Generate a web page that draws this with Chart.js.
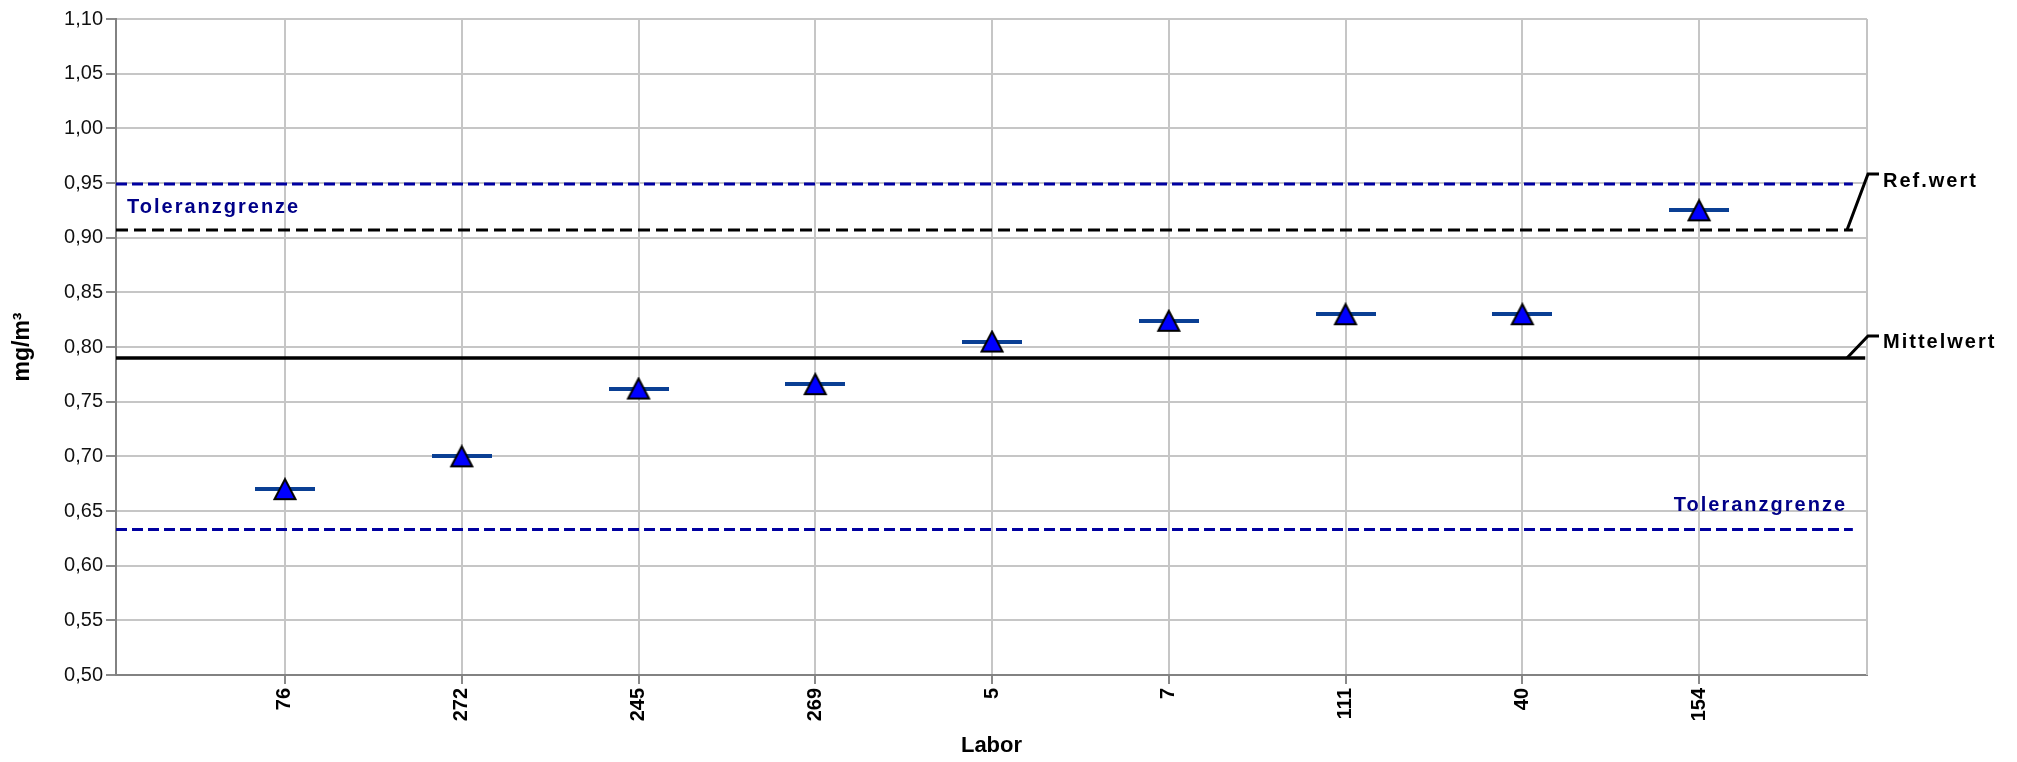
<!DOCTYPE html>
<html>
<head>
<meta charset="utf-8">
<script src="https://cdn.jsdelivr.net/npm/chart.js@4.4.1/dist/chart.umd.min.js"></script>
<style>
  body { margin: 0; background: #fff; }
  canvas { display: block; }
</style>
</head>
<body>
<canvas id="chart" width="2017" height="762"></canvas>
<script>
const labore = ['76', '272', '245', '269', '5', '7', '111', '40', '154'];
const messwerte = [0.670, 0.700, 0.762, 0.766, 0.805, 0.824, 0.830, 0.830, 0.925];
const refWert = 0.907;
const mittelwert = 0.790;
const tolOben = 0.949;
const tolUnten = 0.633;

const xMin = -0.956, xMax = 8.95;
const dashEnde = 8.87, mittelEnde = 8.94;

function fmt(v) {
  return v.toFixed(2).replace('.', ',');
}

// marker images (keeps Chart.js from reserving overflow space for big radii)
function makeTriangle() {
  const c = document.createElement('canvas');
  c.width = 26;
  c.height = 24;
  const g = c.getContext('2d');
  g.beginPath();
  g.moveTo(13, 2);
  g.lineTo(23.5, 22);
  g.lineTo(2.5, 22);
  g.closePath();
  g.fillStyle = '#0000ff';
  g.fill();
  g.lineWidth = 2;
  g.lineJoin = 'miter';
  g.strokeStyle = '#000';
  g.stroke();
  return c;
}

function makeBar() {
  const c = document.createElement('canvas');
  c.width = 60;
  c.height = 4;
  const g = c.getContext('2d');
  g.fillStyle = '#0a3f94';
  g.fillRect(0, 0, 60, 4);
  return c;
}

function hline(y, end) {
  return [{ x: xMin, y: y }, { x: end, y: y }];
}

const punkte = messwerte.map((v, i) => ({ x: i, y: v }));

const beschriftung = {
  id: 'beschriftung',
  afterDatasetsDraw(chart) {
    const ctx = chart.ctx;
    const a = chart.chartArea;
    const y = chart.scales.y;
    ctx.save();

    // right frame line
    ctx.strokeStyle = '#c4c4c4';
    ctx.lineWidth = 2;
    ctx.beginPath();
    ctx.moveTo(a.right, a.top);
    ctx.lineTo(a.right, a.bottom);
    ctx.stroke();

    ctx.letterSpacing = '2px';
    ctx.font = 'bold 20px "Liberation Sans", Arial, sans-serif';

    ctx.fillStyle = '#000088';
    ctx.textBaseline = 'alphabetic';
    ctx.textAlign = 'left';
    ctx.fillText('Toleranzgrenze', a.left + 11, y.getPixelForValue(tolOben) + 29);
    ctx.textAlign = 'right';
    ctx.fillText('Toleranzgrenze', a.right - 20, y.getPixelForValue(tolUnten) - 19);

    // leader lines to the right-hand labels
    ctx.strokeStyle = '#000';
    ctx.lineWidth = 3;
    ctx.fillStyle = '#000';
    ctx.textAlign = 'left';
    ctx.textBaseline = 'middle';
    [[refWert, 'Ref.wert', 56, 49], [mittelwert, 'Mittelwert', 22, 15]].forEach(([v, txt, up, tu]) => {
      const py = y.getPixelForValue(v);
      ctx.beginPath();
      ctx.moveTo(a.right - 20, py);
      ctx.lineTo(a.right + 1, py - up);
      ctx.lineTo(a.right + 12, py - up);
      ctx.stroke();
      ctx.fillText(txt, a.right + 16, py - tu);
    });
    ctx.restore();
  }
};

Chart.defaults.font.family = '"Liberation Sans", Arial, sans-serif';
Chart.defaults.color = '#111';

new Chart(document.getElementById('chart'), {
  type: 'scatter',
  data: {
    datasets: [
      {
        data: punkte,
        pointStyle: makeTriangle(),
        radius: 2,
        hoverRadius: 2,
        order: 0
      },
      {
        data: punkte,
        pointStyle: makeBar(),
        radius: 2,
        hoverRadius: 2,
        order: 1
      },
      {
        data: hline(tolOben, dashEnde),
        showLine: true, pointRadius: 0, pointHoverRadius: 0,
        borderColor: '#0000a0', borderWidth: 3, borderDash: [11, 5],
        order: 2
      },
      {
        data: hline(tolUnten, dashEnde),
        showLine: true, pointRadius: 0, pointHoverRadius: 0,
        borderColor: '#0000a0', borderWidth: 3, borderDash: [11, 5],
        order: 2
      },
      {
        data: hline(refWert, dashEnde),
        showLine: true, pointRadius: 0, pointHoverRadius: 0,
        borderColor: '#000', borderWidth: 3, borderDash: [12, 6],
        order: 2
      },
      {
        data: hline(mittelwert, mittelEnde),
        showLine: true, pointRadius: 0, pointHoverRadius: 0,
        borderColor: '#000', borderWidth: 3.5,
        order: 2
      }
    ]
  },
  options: {
    responsive: false,
    animation: false,
    layout: { padding: { top: 19, right: 150, left: 0, bottom: 0 } },
    plugins: {
      legend: { display: false },
      tooltip: { enabled: false }
    },
    scales: {
      x: {
        type: 'linear',
        min: xMin,
        max: xMax,
        afterBuildTicks(scale) {
          scale.ticks = labore.map((l, i) => ({ value: i }));
        },
        afterFit(scale) {
          scale.height = 87;
          scale.paddingLeft = 0;
          scale.paddingRight = 0;
        },
        ticks: {
          autoSkip: false,
          minRotation: 90,
          maxRotation: 90,
          padding: 4,
          color: '#000',
          font: { size: 20, weight: 'bold' },
          callback: (v) => labore[v]
        },
        grid: { color: '#c6c6c6', lineWidth: 2, tickLength: 9, tickColor: '#8a8a8a' },
        border: { color: '#828282', width: 2 },
        title: {
          display: true,
          text: 'Labor',
          color: '#000',
          padding: { top: 4, bottom: 3 },
          font: { size: 22, weight: 'bold' }
        }
      },
      y: {
        min: 0.5,
        max: 1.1,
        afterFit(scale) {
          scale.width = 116;
          scale.paddingTop = 0;
          scale.paddingBottom = 0;
        },
        ticks: {
          stepSize: 0.05,
          padding: 3,
          color: '#111',
          font: { size: 20 },
          callback: (v) => fmt(v)
        },
        grid: { color: '#c6c6c6', lineWidth: 2, tickLength: 10, tickColor: '#8a8a8a' },
        border: { color: '#828282', width: 2 },
        title: {
          display: true,
          text: 'mg/m³',
          color: '#000',
          padding: { top: 9, bottom: 4 },
          font: { size: 23, weight: 'bold' }
        }
      }
    }
  },
  plugins: [beschriftung]
});
</script>
</body>
</html>
